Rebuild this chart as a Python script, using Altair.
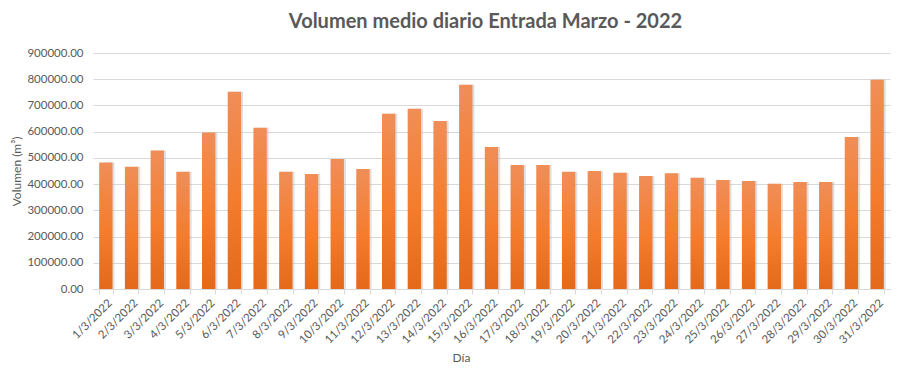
import altair as alt
import pandas as pd

dias = [f"{d}/3/2022" for d in range(1, 32)]
volumen = [482000, 466000, 528000, 447000, 597000, 752000, 615000, 447000, 439000, 496000,
           458000, 668000, 687000, 641000, 779000, 542000, 473000, 473000, 447000, 450000,
           443000, 431000, 441000, 424000, 416000, 412000, 401000, 408000, 408000, 580000, 798000]

df = pd.DataFrame({"Dia": dias, "Volumen": volumen})

FONT = "Lato"
GREY = "#595959"

x_enc = alt.X("Dia:N", sort=dias, title="Día",
              scale=alt.Scale(paddingInner=0.48, paddingOuter=0.24),
              axis=alt.Axis(labelAngle=-45, labelFontSize=11.5, labelColor=GREY, labelFont=FONT,
                            titleFont=FONT, titleFontSize=12, titleColor=GREY, titleFontWeight="normal",
                            domainColor="#D9D9D9", tickColor="#D9D9D9", tickSize=5, tickBand="extent",
                            labelPadding=3, titleX=368, titleY=68, titleAlign="center",
                            titleBaseline="middle"))
y_enc = alt.Y("Volumen:Q", title="Volumen (m³)",
              scale=alt.Scale(domain=[0, 900000], nice=False),
              axis=alt.Axis(values=list(range(0, 900001, 100000)), format=".2f",
                            labelFontSize=11.5, labelColor=GREY, labelFont=FONT,
                            titleFont=FONT, titleFontSize=12, titleColor=GREY, titleFontWeight="normal",
                            domain=False, ticks=False, labelPadding=10, gridColor="#D9D9D9",
                            titlePadding=3))

shadow = alt.Chart(df).mark_bar(color="#A6A6A6", opacity=0.35, xOffset=2).encode(x=x_enc, y=y_enc)
bars = alt.Chart(df).mark_bar(
    color=alt.Gradient(gradient="linear", x1=0, x2=0, y1=0, y2=1,
                       stops=[alt.GradientStop(color="#F08E58", offset=0),
                              alt.GradientStop(color="#F47C2C", offset=0.55),
                              alt.GradientStop(color="#E4691B", offset=1)])
).encode(x=x_enc, y=y_enc)

chart = (shadow + bars).properties(
    width=797, height=236,
    title=alt.TitleParams("Volumen medio diario Entrada Marzo - 2022", fontSize=20, font=FONT,
                          fontWeight="bold", color=GREY, anchor="middle", offset=15, dx=-6),
    autosize=alt.AutoSizeParams(type="none"),
    padding={"left": 85, "top": 45, "right": 2, "bottom": 77},
).configure_view(stroke=None)

chart.save("out.html", embed_options={"renderer": "svg", "actions": False})
